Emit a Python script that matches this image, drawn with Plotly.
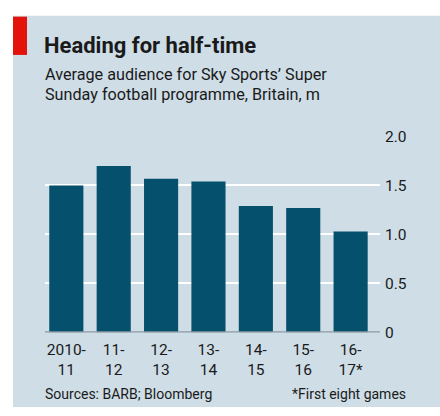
import plotly.graph_objects as go

categories = ["2010-<br>11", "11-<br>12", "12-<br>13", "13-<br>14", "14-<br>15", "15-<br>16", "16-<br>17*"]
audience_m = [1.50, 1.70, 1.57, 1.54, 1.29, 1.27, 1.03]
y_ticks = [0, 0.5, 1.0, 1.5, 2.0]
y_tick_labels = ["0", "0.5", "1.0", "1.5", "2.0"]

W, H = 440, 416
FONT = "Roboto"
BG = "#cedde6"
BAR = "#04506d"
TEXT = "#1a1a1a"

def px(x):
    return x / W

def py(y):
    return 1 - y / H

fig = go.Figure()
fig.add_trace(go.Bar(
    x=list(range(len(categories))),
    y=audience_m,
    marker=dict(color=BAR, line=dict(width=0)),
    width=0.72,
    hoverinfo="skip",
))

fig.update_layout(
    width=W, height=H,
    margin=dict(l=0, r=0, t=0, b=0),
    paper_bgcolor="white",
    plot_bgcolor="rgba(0,0,0,0)",
    showlegend=False,
    font=dict(family=FONT, color=TEXT, size=15),
    xaxis=dict(
        domain=[px(45), px(380)],
        range=[-0.45, 6.62],
        tickmode="array",
        tickvals=list(range(len(categories))),
        ticktext=categories,
        showgrid=False, zeroline=False, showline=False, ticks="",
        ticklabelstandoff=6,
        tickfont=dict(size=15.5, family=FONT, color=TEXT),
    ),
    yaxis=dict(
        domain=[py(338), py(133.3)],
        range=[0, 2.0],
        side="right",
        tickmode="array",
        tickvals=y_ticks,
        ticktext=y_tick_labels,
        showgrid=True, gridcolor="white", gridwidth=2,
        zeroline=False, showline=False, ticks="",
        ticklabelstandoff=4,
        tickfont=dict(size=15.5, family=FONT, color=TEXT),
    ),
    shapes=[
        dict(type="rect", xref="paper", yref="paper",
             x0=px(13), x1=1.0, y0=0, y1=py(7),
             fillcolor=BG, line=dict(width=0), layer="below"),
        dict(type="rect", xref="paper", yref="paper",
             x0=px(13), x1=px(27), y0=py(48), y1=py(8),
             fillcolor="#e3120b", line=dict(width=0), layer="below"),
        dict(type="line", xref="paper", yref="y",
             x0=px(45), x1=px(380), y0=0, y1=0,
             line=dict(color="#8d9aa1", width=2), layer="above"),
    ],
    annotations=[
        dict(text="<b>Heading for half-time</b>", xref="paper", yref="paper",
             x=px(42), y=py(38), xanchor="left", yanchor="middle",
             showarrow=False, font=dict(size=22, family=FONT, color=TEXT)),
        dict(text="Average audience for Sky Sports’ Super", xref="paper", yref="paper",
             x=px(43), y=py(68), xanchor="left", yanchor="middle",
             showarrow=False, font=dict(size=16.2, family=FONT, color=TEXT)),
        dict(text="Sunday football programme, Britain, m", xref="paper", yref="paper",
             x=px(43), y=py(89), xanchor="left", yanchor="middle",
             showarrow=False, font=dict(size=16.2, family=FONT, color=TEXT)),
        dict(text="Sources: BARB; Bloomberg", xref="paper", yref="paper",
             x=px(43), y=py(402), xanchor="left", yanchor="middle",
             showarrow=False, font=dict(size=14, family=FONT, color=TEXT)),
        dict(text="*First eight games", xref="paper", yref="paper",
             x=px(408), y=py(402), xanchor="right", yanchor="middle",
             showarrow=False, font=dict(size=14, family=FONT, color=TEXT)),
    ],
)

fig.write_html("out.html", config={"displayModeBar": False},
               post_script="document.body.style.margin='0';")
